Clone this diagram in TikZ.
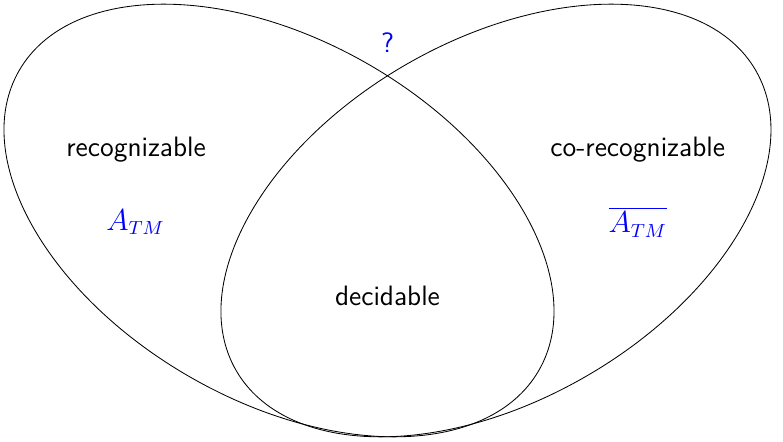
\documentclass[tikz,border=0pt]{standalone}
\usepackage{xcolor}
\usepackage{tikz}
\usetikzlibrary{shapes.geometric}

\begin{document}
\begin{tikzpicture}[%
%
    font=\sffamily\fontsize{13.3}{16}\selectfont,
    langset/.style={ellipse,draw,inner sep=0pt,minimum width=10cm,minimum height=6cm},
    ex/.style={text=blue},
                        ]
    \useasboundingbox (-6.458,-3.69) rectangle (6.592,3.675);
    \node[langset, rotate=-30] (rec_set)  at (-1.808,0) {};
    \node[langset, rotate=30]  (corec_set) at (1.808,0) {};

    \node (rec_label)   at (-4.19,1.175) {recognizable};
    \node (corec_label) at (4.17,1.175)  {co-recognizable};
    \node (dec_label)   at (0,-1.26)     {decidable};

    \node[ex] (atm_node)    at (-4.2,-0.03) {$A_{TM}$};
    \node[ex] (coatm_node)  at (4.17,-0.03) {$\overline{A_{TM}}$};
    \node[ex] (open_node)   at (0,2.96)     {?};

    \end{tikzpicture}
\end{document}
